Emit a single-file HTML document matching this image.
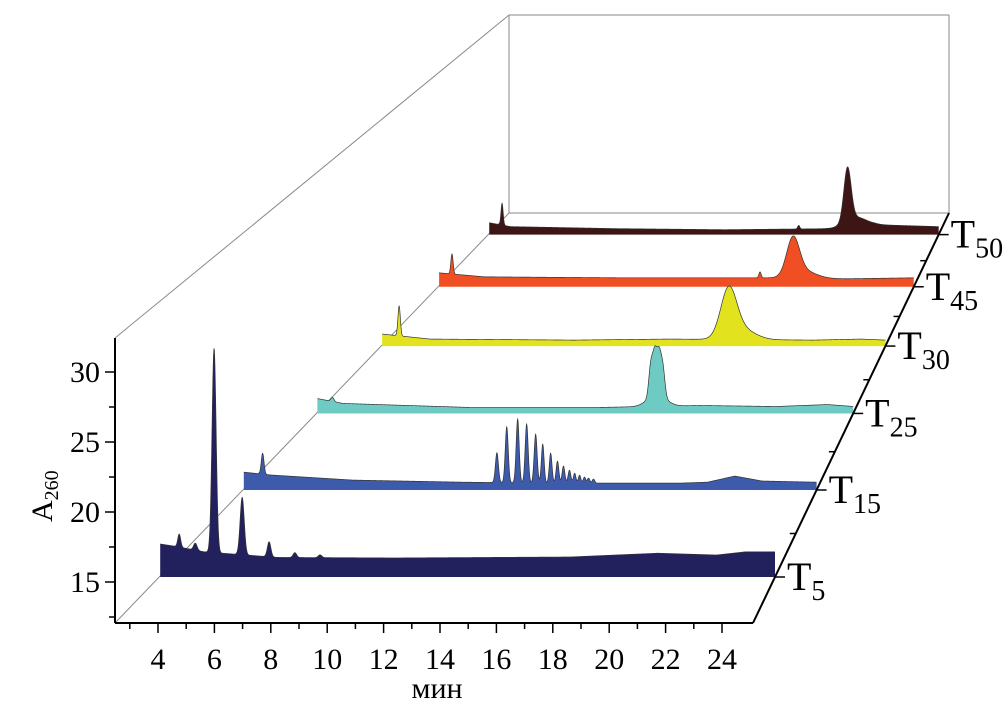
<!DOCTYPE html>
<html><head><meta charset="utf-8"><style>
html,body{margin:0;padding:0;background:#fff;}
svg{display:block;}
svg text{font-family:"Liberation Serif","DejaVu Serif",serif;}
</style></head><body>
<svg id="chart" width="1004" height="708" viewBox="0 0 1004 708" xmlns="http://www.w3.org/2000/svg" font-family="Liberation Serif, serif">
<g id="frame"></g>
<g id="traces"></g>
<g id="axes"></g>
</svg>
<script>
// ---- data ----
const yTicks = [15, 20, 25, 30];
const xTicks = [4, 6, 8, 10, 12, 14, 16, 18, 20, 22, 24];
const seriesNames = ["T5", "T15", "T25", "T30", "T45", "T50"];
const seriesSubs = ["5", "15", "25", "30", "45", "50"];
const seriesColors = ["#23205e", "#3e5aaa", "#6ecbc4", "#e2e21e", "#f04e23", "#3d1515"];
// baselines: [time, A260 offset]
const baseT5 = [[4,2.36],[4.5,2.2],[5.5,1.8],[8,1.4],[12,1.36],[18,1.43],[21,1.7],[23,1.57],[24,1.8],[25,1.8]];
const baseT15 = [[4,1.37],[5,1.15],[8,0.76],[12,0.6],[15,0.53],[20,0.53],[21,0.6],[22,1.07],[23,0.69],[25,0.6]];
const baseT25 = [[4,1.22],[5,0.82],[10,0.49],[15,0.49],[19,0.65],[22,0.57],[24,0.73],[25,0.57]];
const baseT30 = [[4,1.05],[6,0.61],[12,0.52],[16,0.61],[22,0.52],[24,0.61],[25,0.52]];
const baseT45 = [[4,1.29],[6,0.92],[12,0.83],[18,0.83],[22,0.74],[25,0.83]];
const baseT50 = [[4,1.16],[5,0.78],[10,0.58],[15,0.48],[20,0.58],[22,0.97],[25,0.78]];
// peaks: [time, height, width]
const peaksT5 = [[4.65,0.93,0.05],[5.2,0.5,0.06],[5.84,14.6,0.07],[6.8,4.1,0.07],[7.72,1.07,0.06],[8.6,0.35,0.06],[9.46,0.2,0.06]];
const peaksT15 = [[4.69,1.6,0.05],[13.28,2.29,0.055],[13.64,4.28,0.055],[14.04,4.89,0.055],[14.37,4.51,0.055],[14.7,3.74,0.055],[14.96,2.98,0.05],[15.25,2.29,0.05],[15.5,1.68,0.05],[15.72,1.3,0.05],[15.94,0.99,0.05],[16.13,0.76,0.045],[16.31,0.61,0.045],[16.49,0.46,0.045],[16.64,0.38,0.045],[16.82,0.31,0.045]];
const peaksT25 = [[4.59,0.33,0.06],[17.07,2.6,0.08],[17.23,3.2,0.08],[17.39,3.1,0.08],[17.54,2.3,0.08],[17.3,1.0,0.35]];
const peaksT30 = [[4.71,2.6,0.05],[18.46,4.1,0.33],[19.0,0.9,0.55]];
const peaksT45 = [[4.57,1.85,0.05],[18.2,0.55,0.05],[19.66,3.4,0.28],[20.1,0.7,0.55]];
const peaksT50 = [[4.6,2.13,0.05],[18.46,0.35,0.05],[20.74,5.2,0.17],[21.1,0.9,0.5]];
const allBase = [baseT5, baseT15, baseT25, baseT30, baseT45, baseT50];
const allPeaks = [peaksT5, peaksT15, peaksT25, peaksT30, peaksT45, peaksT50];

// ---- geometry ----
const NS = "http://www.w3.org/2000/svg";
const FONT = "Liberation Serif, serif";
const FX0 = 115, FY0 = 623, FXR = 753, BY = 213, BX0 = 509, BXR = 949;
const xScale = t => 158 + (t - 4) * 28.2;
const yScale = v => 582 - (v - 15) * 14;
const depthY = i => 577 - 87 * (1 - Math.pow(0.88, i)) / (1 - 0.88);
const leftAt = y => FX0 + (FY0 - y) * (BX0 - FX0) / (FY0 - BY);
const rightAt = y => FXR + (FY0 - y) * (BXR - FXR) / (FY0 - BY);
const T0 = 4, T1 = 25;

function mk(tag, attrs, parent) {
  const e = document.createElementNS(NS, tag);
  for (const k in attrs) e.setAttribute(k, attrs[k]);
  parent.appendChild(e); return e;
}
function interp(arr, t) {
  if (t <= arr[0][0]) return arr[0][1];
  for (let i = 1; i < arr.length; i++) {
    if (t <= arr[i][0]) { const a = arr[i-1], b = arr[i]; return a[1] + (b[1]-a[1]) * (t-a[0])/(b[0]-a[0]); }
  }
  return arr[arr.length-1][1];
}

const frame = document.getElementById("frame");
const traces = document.getElementById("traces");
const axes = document.getElementById("axes");

const greyLines = [[FX0,338,BX0,15],[FX0,FY0,BX0,BY],[BX0,15,BXR,15],[BX0,15,BX0,BY],[BXR,15,BXR,BY],[BX0,BY,BXR,BY]];
greyLines.forEach(l => {
  const e = mk("line", {x1:l[0],y1:l[1],x2:l[2],y2:l[3],stroke:"#8a8a8a","stroke-width":1}, frame);
  
  
});

for (let s = seriesNames.length - 1; s >= 0; s--) {
  const by = depthY(s);
  const L = leftAt(by) + 1, R = rightAt(by);
  const scl = (R - L) / 615;
  const ppu = 14 * scl;
  const tx = t => L + (t - T0) / (T1 - T0) * (R - L);
  let pts = [];
  for (let t = T0; t <= T1 + 1e-9; t += 0.01) {
    let v = interp(allBase[s], t);
    allPeaks[s].forEach(p => { v += p[1] * Math.exp(-0.5 * Math.pow((t - p[0]) / p[2], 2)); });
    pts.push(tx(t).toFixed(2) + "," + (by - v * ppu).toFixed(2));
  }
  const poly = mk("polygon", {points: L + "," + by + " " + pts.join(" ") + " " + R + "," + by, fill: seriesColors[s], stroke: "none"}, traces);
  
  
  const line = mk("polyline", {points: pts.join(" "), fill: "none", stroke: "#333", "stroke-width": 0.7}, traces);
  
  
}

const yAx = mk("line", {x1:FX0,y1:338,x2:FX0,y2:FY0,stroke:"#000","stroke-width":2}, axes);


for (let v = 12.5; v <= 31; v += 2.5) {
  const major = yTicks.indexOf(v) >= 0;
  const tk = mk("line", {x1:FX0 - (major ? 10 : 6), y1:yScale(v), x2:FX0, y2:yScale(v), stroke:"#000","stroke-width":1.5}, axes);
  
  
}
yTicks.forEach(v => {
  const t = mk("text", {x:100, y:yScale(v) + 10, "text-anchor":"end", "font-size":30, "font-family":FONT}, axes);
  t.textContent = v;
  
  
});
const yTitle = mk("text", {transform:"translate(52,522) rotate(-90)", "font-size":30, "font-family":FONT}, axes);


yTitle.innerHTML = 'A<tspan font-size="20" dy="6">260</tspan>';

const xAx = mk("line", {x1:FX0,y1:FY0,x2:FXR,y2:FY0,stroke:"#000","stroke-width":2}, axes);


for (let t = 3; t <= 24; t += 1) {
  const major = xTicks.indexOf(t) >= 0;
  const tk = mk("line", {x1:xScale(t), y1:FY0, x2:xScale(t), y2:FY0 + (major ? 10 : 6), stroke:"#000","stroke-width":1.5}, axes);
  
  
}
xTicks.forEach(t => {
  const e = mk("text", {x:xScale(t), y:669, "text-anchor":"middle", "font-size":30, "font-family":FONT}, axes);
  e.textContent = t;
  
  
});
const xTitle = mk("text", {x:437, y:698, "text-anchor":"middle", "font-size":30, "font-family":FONT}, axes);
xTitle.textContent = "мин";



const dAx = mk("line", {x1:FXR,y1:FY0,x2:BXR,y2:BY,stroke:"#000","stroke-width":2}, axes);


for (let i = 0; i < seriesNames.length; i++) {
  const y = depthY(i), x = rightAt(y);
  const tk = mk("line", {x1:x, y1:y, x2:x + 10, y2:y, stroke:"#000","stroke-width":1.5}, axes);
  
  
  if (i < seriesNames.length - 1) {
    const ym = (y + depthY(i + 1)) / 2, xm = rightAt(ym);
    const mt = mk("line", {x1:xm - 6, y1:ym, x2:xm, y2:ym, stroke:"#000","stroke-width":1.5}, axes);
    
    
  }
  const lb = mk("text", {x:x + 12, y:y + 13, "font-size":40, "font-family":FONT}, axes);
  lb.innerHTML = 'T<tspan font-size="28" dy="10">' + seriesSubs[i] + '</tspan>';
  
  
}
</script>
</body></html>
